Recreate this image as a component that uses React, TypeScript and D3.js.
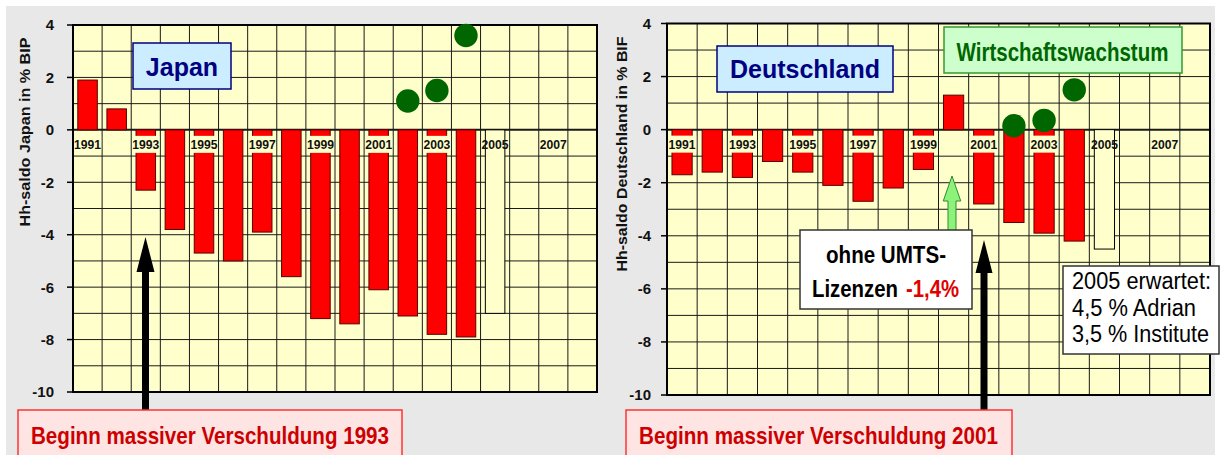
import React from 'react';
import * as d3 from 'd3';

// Kategorien (Jahre) und Achsenbeschriftungen
const years = ['1991', '1992', '1993', '1994', '1995', '1996', '1997', '1998', '1999',
    '2000', '2001', '2002', '2003', '2004', '2005', '2006', '2007', '2008'];
const yearLabels = ['1991', '1993', '1995', '1997', '1999', '2001', '2003', '2005', '2007'];
const yTicks = [4, 2, 0, -2, -4, -6, -8, -10];
const yGrid = [4, 3, 2, 1, 0, -1, -2, -3, -4, -5, -6, -7, -8, -9, -10];

// Haushaltssaldo Japan in % BIP (1991-2004), Prognose 2005
const japanSaldo = [1.9, 0.8, -2.3, -3.8, -4.7, -5.0, -3.9, -5.6, -7.2, -7.4, -6.1, -7.1, -7.8, -7.9];
const japanForecast = -7.0;
// Haushaltssaldo Deutschland in % BIP (1991-2004), Prognose 2005
const deSaldo = [-1.7, -1.6, -1.8, -1.2, -1.6, -2.1, -2.7, -2.2, -1.5, 1.3, -2.8, -3.5, -3.9, -4.2];
const deForecast = -4.5;

// Wirtschaftswachstum (grüne Punkte)
const growthYears = ['2002', '2003', '2004'];
const japanGrowth = [1.1, 1.5, 3.6];
const deGrowth = [0.15, 0.35, 1.5];

const forecastYear = '2005';

const SANS = "'Liberation Sans', Arial, Helvetica, sans-serif";
const NARROW = "'Liberation Sans Narrow', 'Arial Narrow', 'Liberation Sans', sans-serif";

const PLOT_BG = '#FFFFCC';

interface PanelProps {
    left: number;
    right: number;
    top: number;
    bottom: number;
    saldo: number[];
    forecast: number;
    growth: number[];
    title: string;
    titleX: number;
    titleY: number;
    titleLen: number;
    tickLabelX: number;
}

const Panel: React.FC<PanelProps> = ({ left, right, top, bottom, saldo, forecast, growth, title, titleX, titleY, titleLen, tickLabelX }) => {
    const x = d3.scaleBand<string>().domain(years).range([left, right]).padding(0);
    const y = d3.scaleLinear().domain([-10, 4]).range([bottom, top]);
    const col = x.bandwidth();
    const barW = col * 0.67;
    const y0 = y(0);

    return (
        <g>
            <rect x={left} y={top} width={right - left} height={bottom - top} fill={PLOT_BG} />
            {/* grid */}
            {yGrid.map(v => (
                <line key={'h' + v} x1={left} x2={right} y1={y(v)} y2={y(v)} stroke="#1a1a1a" strokeWidth={v === 0 ? 2 : 1} />
            ))}
            {years.map(yr => (
                <line key={'v' + yr} x1={x(yr)} x2={x(yr)} y1={top} y2={bottom} stroke="#1a1a1a" strokeWidth={1} />
            ))}
            {/* bars */}
            {saldo.map((v, i) => {
                const cx = x(years[i])! + col / 2;
                return (
                    <rect key={'b' + i} x={cx - barW / 2} y={Math.min(y(v), y0)} width={barW}
                        height={Math.abs(y(v) - y0)} fill="#FF0000" stroke="#5a0000" strokeWidth={1} />
                );
            })}
            {/* year label backgrounds */}
            {yearLabels.filter(l => l !== forecastYear && l !== '2007').map(l => (
                <rect key={'lb' + l} x={x(l)! + 1} y={y0 + 6} width={col - 2} height={17} fill={PLOT_BG} />
            ))}
            {/* forecast bar */}
            <rect x={x(forecastYear)! + col / 2 - barW / 2} y={y0} width={barW} height={y(forecast) - y0}
                fill={PLOT_BG} stroke="#000" strokeWidth={1} />
            {yearLabels.map(l => (
                <text key={'l' + l} x={x(l)! + col / 2} y={y0 + 19} textAnchor="middle" fontFamily={SANS}
                    fontWeight="bold" fontSize={13} fill="#111" textLength={27} lengthAdjust="spacingAndGlyphs">{l}</text>
            ))}
            {/* border */}
            <rect x={left} y={top} width={right - left} height={bottom - top} fill="none" stroke="#000" strokeWidth={2} />
            {/* y axis */}
            {yTicks.map(v => (
                <g key={'t' + v}>
                    <line x1={left - 6} x2={left} y1={y(v)} y2={y(v)} stroke="#000" strokeWidth={1.5} />
                    <text x={tickLabelX} y={y(v)} dy="0.36em" textAnchor="end" fontFamily={SANS}
                        fontWeight="bold" fontSize={15} fill="#111">{v}</text>
                </g>
            ))}
            <text transform={`translate(${titleX},${titleY}) rotate(-90)`} textAnchor="middle" dy="0.35em"
                fontFamily={SANS} fontWeight="bold" fontSize={14} fill="#111"
                textLength={titleLen} lengthAdjust="spacingAndGlyphs">{title}</text>
            {/* growth dots */}
            {growth.map((v, i) => (
                <circle key={'g' + i} cx={x(growthYears[i])! + col / 2} cy={y(v)} r={11.7} fill="#006600" />
            ))}
        </g>
    );
};

const arrow = (cx: number, tip: number, base: number, end: number, headW: number, shaftW: number) =>
    `M${cx},${tip} L${cx + headW / 2},${base} L${cx + shaftW / 2},${base} L${cx + shaftW / 2},${end} ` +
    `L${cx - shaftW / 2},${end} L${cx - shaftW / 2},${base} L${cx - headW / 2},${base} Z`;

const App: React.FC = () => {
    return (
        <svg width={1220} height={455} style={{ position: 'absolute', left: 0, top: 0 }}>
            <rect x={0} y={0} width={1220} height={455} fill="#fff" />
            <rect x={6} y={6} width={1209} height={449} fill="#E8E8E8" />

            <Panel left={73} right={597} top={25} bottom={392} saldo={japanSaldo} forecast={japanForecast}
                growth={japanGrowth} title="Hh-saldo Japan in % BIP" titleX={25} titleY={132} titleLen={189} tickLabelX={54} />
            <Panel left={667} right={1210} top={23.5} bottom={395} saldo={deSaldo} forecast={deForecast}
                growth={deGrowth} title="Hh-saldo Deutschland in % BIF" titleX={622} titleY={154} titleLen={235} tickLabelX={651} />

            {/* title boxes */}
            <rect x={133} y={43} width={98} height={46} fill="#CCECFF" stroke="#000080" strokeWidth={1.5} />
            <text x={182} y={76} textAnchor="middle" fontFamily={SANS} fontWeight="bold" fontSize={25} fill="#000080">Japan</text>
            <rect x={717} y={46} width={176} height={46} fill="#CCECFF" stroke="#000080" strokeWidth={1.5} />
            <text x={805} y={78} textAnchor="middle" fontFamily={SANS} fontWeight="bold" fontSize={25} fill="#000080">Deutschland</text>
            <rect x={944} y={27} width={238} height={46} fill="#CCFFCC" stroke="#339933" strokeWidth={1.5} />
            <text transform="translate(1062.5,61) scale(0.79,1)" textAnchor="middle" fontFamily={NARROW}
                fontWeight="bold" fontSize={26} fill="#006600">Wirtschaftswachstum</text>

            {/* arrows */}
            <path d={arrow(145.5, 237, 272, 412, 18, 7)} fill="#000" />
            <path d={arrow(984, 240, 273, 412, 17, 7)} fill="#000" />
            <path d={arrow(952, 176, 201, 231, 17.5, 8)} fill="#8CF27A" stroke="#2E8B2E" strokeWidth={1} />

            {/* UMTS box */}
            <rect x={800} y={230} width={172} height={79} fill="#fff" stroke="#333" strokeWidth={1.5} />
            <text x={826} y={263} fontFamily={NARROW} fontWeight="bold" fontSize={23} fill="#000"
                textLength={120} lengthAdjust="spacingAndGlyphs">ohne UMTS-</text>
            <text x={812} y={297} fontFamily={NARROW} fontWeight="bold" fontSize={23} fill="#000"
                textLength={86} lengthAdjust="spacingAndGlyphs">Lizenzen</text>
            <text x={906} y={297} fontFamily={NARROW} fontWeight="bold" fontSize={23} fill="#E00000"
                textLength={53} lengthAdjust="spacingAndGlyphs">-1,4%</text>

            {/* 2005 forecast box */}
            <rect x={1063} y={266} width={156} height={88} fill="#fff" stroke="#333" strokeWidth={1.5} />
            <text x={1072} y={289} fontFamily={NARROW} fontSize={23} fill="#000"
                textLength={139} lengthAdjust="spacingAndGlyphs">2005 erwartet:</text>
            <text x={1072} y={316} fontFamily={NARROW} fontSize={23} fill="#000"
                textLength={124} lengthAdjust="spacingAndGlyphs">4,5 % Adrian</text>
            <text x={1072} y={342} fontFamily={NARROW} fontSize={23} fill="#000"
                textLength={137} lengthAdjust="spacingAndGlyphs">3,5 % Institute</text>

            {/* bottom boxes */}
            <rect x={18} y={410} width={384} height={55} fill="#FFE4E4" stroke="#FF3333" strokeWidth={1.5} />
            <text x={31} y={444} fontFamily={NARROW} fontWeight="bold" fontSize={24} fill="#CC0000"
                textLength={358} lengthAdjust="spacingAndGlyphs">Beginn massiver Verschuldung 1993</text>
            <rect x={626} y={410} width={386} height={55} fill="#FFE4E4" stroke="#FF3333" strokeWidth={1.5} />
            <text x={639} y={444} fontFamily={NARROW} fontWeight="bold" fontSize={24} fill="#CC0000"
                textLength={359} lengthAdjust="spacingAndGlyphs">Beginn massiver Verschuldung 2001</text>
        </svg>
    );
};

export default App;
